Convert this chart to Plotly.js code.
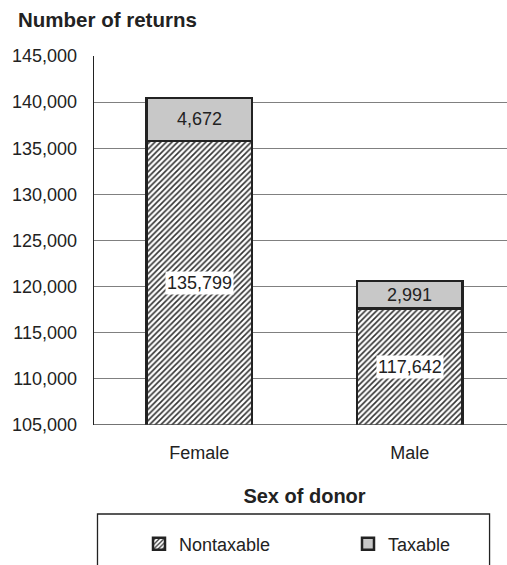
<!DOCTYPE html>
<html>
<head>
<meta charset="utf-8">
<script src="https://cdn.plot.ly/plotly-3.0.1.min.js"></script>
<style>
html,body{margin:0;padding:0;overflow:hidden;background:#fff;}
#chart{width:520px;height:565px;}
</style>
</head>
<body>
<div id="chart"></div>
<script>
const categories = ["Female", "Male"];
const nontaxable = [135799, 117642];
const taxable = [4672, 2991];
const yTickVals = [105000, 110000, 115000, 120000, 125000, 130000, 135000, 140000, 145000];
const yMin = 105000, yMax = 145000;

const FONT = "Liberation Sans, Arial, sans-serif";
const TXT = "#222222";
const fs = 18;

const traces = [
  {
    type: "bar", name: "Nontaxable", x: categories, y: nontaxable,
    width: 0.5,
    marker: {color: "#ffffff", line: {color: "#222222", width: 2.5},
      pattern: {shape: "/", fgcolor: "#333333", bgcolor: "#ffffff", size: 4, solidity: 0.4}},
    hoverinfo: "skip", legend: "legend"
  },
  {
    type: "bar", name: "Taxable", x: categories, y: taxable,
    width: 0.5,
    marker: {color: "#c8c8c8", line: {color: "#222222", width: 2.5}},
    hoverinfo: "skip", legend: "legend2"
  }
];

const fmt = v => v.toLocaleString("en-US");
const annotations = [];
categories.forEach((c, i) => {
  annotations.push({
    x: c, y: (yMin + nontaxable[i]) / 2, xref: "x", yref: "y",
    text: fmt(nontaxable[i]), showarrow: false, bgcolor: "#ffffff", borderpad: 1,
    font: {family: FONT, size: fs, color: TXT}
  });
  annotations.push({
    x: c, y: nontaxable[i] + taxable[i] / 2, xref: "x", yref: "y",
    text: fmt(taxable[i]), showarrow: false,
    font: {family: FONT, size: fs, color: TXT}
  });
});

const layout = {
  width: 520, height: 565,
  margin: {l: 93.5, r: 4.5, t: 56, b: 140},
  paper_bgcolor: "#ffffff", plot_bgcolor: "#ffffff",
  barmode: "stack",
  font: {family: FONT, size: fs, color: TXT},
  title: {text: "<b>Number of returns</b>", xref: "container", yref: "container",
    x: 18/520, xanchor: "left", y: 1 - 20/565, yanchor: "middle",
    font: {family: FONT, size: 20.5, color: TXT}},
  xaxis: {
    type: "category", range: [-0.5, 1.5], showgrid: false, zeroline: false,
    showline: false, ticks: "", ticklabelstandoff: 15,
    tickfont: {family: FONT, size: fs, color: TXT},
    title: {text: "<b>Sex of donor</b>", standoff: 26, font: {family: FONT, size: 20, color: TXT}},
    automargin: false, fixedrange: true
  },
  yaxis: {
    range: [yMin, yMax], tickvals: yTickVals, ticktext: yTickVals.map(fmt),
    showgrid: true, gridcolor: "#808080", gridwidth: 1,
    showline: true, linecolor: "#222222", linewidth: 1.3,
    zeroline: false, ticks: "", ticklabelstandoff: 12,
    tickfont: {family: FONT, size: fs, color: TXT},
    automargin: false, fixedrange: true
  },
  showlegend: true,
  legend: {orientation: "h", xref: "container", yref: "container",
    x: 139/520, xanchor: "left", y: 1 - 544/565, yanchor: "middle",
    bgcolor: "rgba(0,0,0,0)", borderwidth: 0,
    font: {family: FONT, size: fs, color: TXT}},
  legend2: {orientation: "h", xref: "container", yref: "container",
    x: 348/520, xanchor: "left", y: 1 - 544/565, yanchor: "middle",
    bgcolor: "rgba(0,0,0,0)", borderwidth: 0,
    font: {family: FONT, size: fs, color: TXT}},
  shapes: [
    {type: "line", xref: "paper", yref: "y", x0: 0, x1: 1, y0: yMin, y1: yMin,
      line: {color: "#444444", width: 1.5}, layer: "above"},
    {type: "rect", xref: "paper", yref: "paper",
      x0: (97 - 93.5)/422, x1: (490 - 93.5)/422,
      y0: (425 - 580)/369, y1: (425 - 514)/369,
      line: {color: "#222222", width: 1.3}, fillcolor: "rgba(0,0,0,0)"}
  ],
  annotations: annotations
};

Plotly.newPlot("chart", traces, layout, {displayModeBar: false, staticPlot: true});
</script>
</body>
</html>
